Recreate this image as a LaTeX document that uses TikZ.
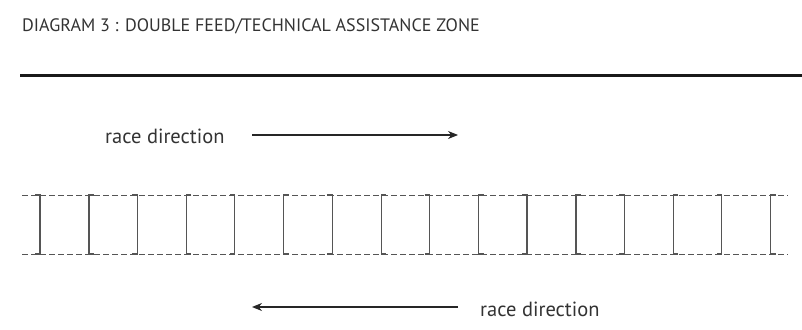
\documentclass[tikz,border=0pt]{standalone}
\usepackage{fontspec}
\setmainfont{PT Sans}
\usetikzlibrary{arrows.meta}
\definecolor{txt}{HTML}{333333}
\definecolor{lane}{HTML}{555555}
\tikzset{
  lbl/.style={inner sep=0pt, text=txt, font=\fontsize{20.5}{24}\selectfont},
  ttl/.style={inner sep=0pt, text=txt, font=\fontsize{18}{21}\selectfont, anchor=west},
  dirarrow/.style={draw=black!85, line width=1.1pt, -{Stealth[length=10pt,width=8pt]}},
  lanedash/.style={draw=lane, line width=0.9pt, dash pattern=on 6pt off 3pt},
  bracket/.style={draw=lane, line width=1.2pt},
}
\begin{document}
\begin{tikzpicture}[x=1pt,y=1pt]
\useasboundingbox (0,0) rectangle (802,329);
% title
\node[ttl] (title) at (22,303) {DIAGRAM 3 : DOUBLE FEED/TECHNICAL ASSISTANCE ZONE};
% thick barrier line
\coordinate (barL) at (20,253);
\coordinate (barR) at (802,253);
\draw[line width=3pt, black!90] (barL) -- (barR);
% upper direction
\node[lbl, anchor=west] (dirU) at (105,193) {race direction};
\coordinate (uS) at (252,194);
\coordinate (uE) at (458,194);
\draw[dirarrow] (uS) -- (uE);
% lower direction
\node[lbl, anchor=west] (dirD) at (480,20) {race direction};
\coordinate (dS) at (458,22);
\coordinate (dE) at (252,22);
\draw[dirarrow] (dS) -- (dE);
% dashed lane lines
\coordinate (tL) at (22,134);
\coordinate (tR) at (788,134);
\coordinate (bL) at (22,75);
\coordinate (bR) at (788,75);
\draw[lanedash] (tL) -- (tR);
\draw[lanedash] (bL) -- (bR);
% brackets
\foreach \k in {0,...,7}{
  \pgfmathsetmacro{\xr}{40+97.4*\k}
  \pgfmathsetmacro{\xl}{89+97.4*\k}
  \draw[bracket] (\xr-5,134) -- (\xr,134) -- (\xr,75) -- (\xr-5,75);
  \draw[bracket] (\xl+5,134) -- (\xl,134) -- (\xl,75) -- (\xl+5,75);
}
\end{tikzpicture}
\end{document}
